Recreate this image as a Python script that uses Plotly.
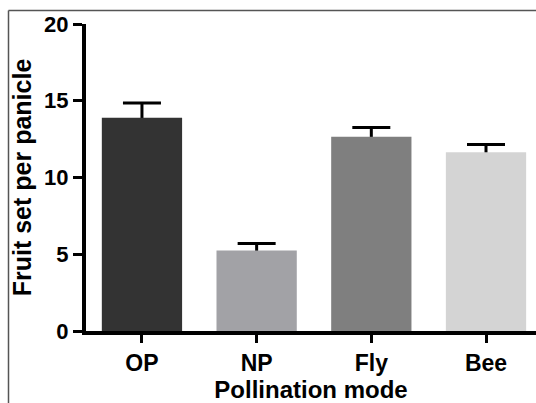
import plotly.graph_objects as go

categories = ["OP", "NP", "Fly", "Bee"]
fruit_set = [13.9, 5.25, 12.65, 11.65]
sem = [0.95, 0.45, 0.6, 0.5]
bar_colors = ["#333333", "#a2a2a6", "#7f7f7f", "#d4d4d4"]
y_ticks = [0, 5, 10, 15, 20]

W, H = 536, 403
ML, MR, MT, MB = 86, 0, 24, 72
PW, PH = W - ML - MR, H - MT - MB

fig = go.Figure()
# error bars (lower half hidden by the bars drawn on top)
fig.add_trace(go.Bar(
    x=categories, y=fruit_set,
    marker=dict(color="rgba(0,0,0,0)", line=dict(width=0)),
    width=0.70,
    error_y=dict(type="data", array=sem, symmetric=True,
                 color="black", thickness=3, width=19),
    hoverinfo="skip",
))
fig.add_trace(go.Bar(
    x=categories, y=fruit_set,
    marker=dict(color=bar_colors, line=dict(width=0)),
    width=0.70,
))

font_family = "Liberation Sans, Arial, Helvetica, sans-serif"

fig.update_layout(
    width=W, height=H,
    barmode="overlay",
    margin=dict(l=ML, r=MR, t=MT, b=MB, pad=0),
    paper_bgcolor="white", plot_bgcolor="white",
    showlegend=False,
    font=dict(family=font_family, color="black"),
    xaxis=dict(
        range=[-0.488, 3.436],
        showline=True, linecolor="black", linewidth=4,
        ticks="outside", ticklen=8, tickwidth=3, tickcolor="black",
        tickfont=dict(size=23, weight=700),
        showgrid=False, zeroline=False,
        title=dict(text="Pollination mode", font=dict(size=24, weight=700), standoff=6),
    ),
    yaxis=dict(
        range=[0, 20],
        tickvals=y_ticks,
        showline=True, linecolor="black", linewidth=4,
        ticks="outside", ticklen=9, tickwidth=3, tickcolor="black",
        tickfont=dict(size=22, weight=700),
        showgrid=False, zeroline=False,
        title=dict(text="Fruit set per panicle", font=dict(size=25, weight=700), standoff=6),
    ),
)

# outer frame (top and left edges visible)
x_left = (8.5 - ML) / PW
y_top = (H - MB - 10.5) / PH
fig.add_shape(type="line", xref="paper", yref="paper", x0=x_left, x1=1.2, y0=y_top, y1=y_top,
              line=dict(color="#555555", width=1.5))
fig.add_shape(type="line", xref="paper", yref="paper", x0=x_left, x1=x_left, y0=y_top, y1=-0.5,
              line=dict(color="#555555", width=1.5))

fig.write_html("out.html", config={"displayModeBar": False},
               post_script="document.body.style.margin='0';document.body.style.overflow='hidden';")
